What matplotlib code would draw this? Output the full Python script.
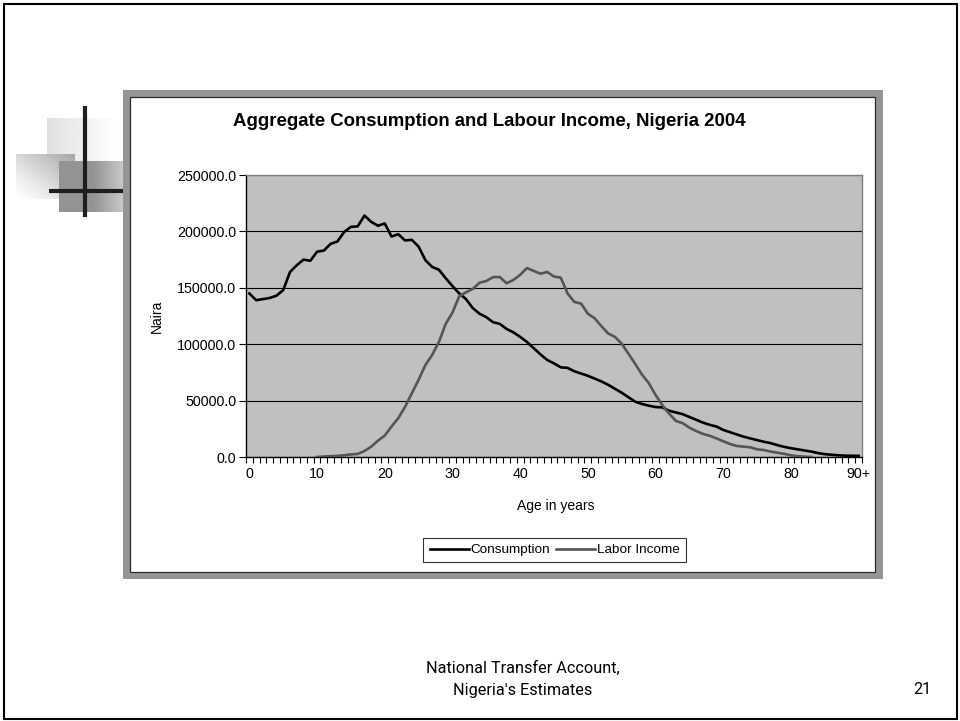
import numpy as np
import matplotlib
matplotlib.use("Agg")
import matplotlib.pyplot as plt
from matplotlib.patches import Rectangle

ages = list(range(0, 91))
age_tick_values = [0, 10, 20, 30, 40, 50, 60, 70, 80, 90]
age_tick_labels = ["0", "10", "20", "30", "40", "50", "60", "70", "80", "90+"]
y_ticks = [0, 50000, 100000, 150000, 200000, 250000]

consumption = [
    145000, 139000, 140000, 141000, 143000, 148000, 164000, 170000, 175000, 174000,
    182000, 183000, 189000, 191000, 199500, 204000, 204500, 214000, 208500, 205000,
    207000, 195500, 197500, 192000, 192500, 186500, 174500, 168500, 166000, 158500,
    151500, 145000, 140000, 132000, 127000, 124000, 119500, 118000, 113500, 110500,
    106500, 102000, 96500, 91000, 86000, 83000, 79500, 79000, 76000, 74000,
    72000, 69500, 67000, 64000, 60500, 57000, 53000, 49000, 47000, 45500,
    44300, 44000, 41000, 39500, 38000, 35500, 33000, 30500, 28500, 27000,
    24000, 22000, 20000, 18000, 16500, 15000, 13500, 12300, 10500, 9000,
    7800, 6800, 5800, 4800, 3500, 2500, 2000, 1500, 1200, 1100,
    1000,
]

labor_income = [
    None, None, None, None, None, None, None, None, None, None,
    0, 400, 700, 1000, 1500, 2300, 2700, 5300, 9200, 14500,
    19000, 27000, 34500, 44500, 56500, 68500, 81500, 90500, 102000, 118000,
    128000, 142500, 146000, 149000, 154500, 156000, 159500, 159500, 154000, 157000,
    161500, 167500, 165000, 162500, 164000, 160000, 159000, 145000, 137500, 136000,
    127000, 123000, 116000, 109500, 106500, 100500, 91500, 82500, 73000, 65500,
    55000, 46000, 38500, 32000, 30000, 26000, 23000, 20500, 18800, 16500,
    14000, 11500, 9800, 9200, 8600, 6800, 6200, 4800, 3800, 2800,
    1500, 700, 300, 0, None, None, None, None, None, None,
    None,
]

title = "Aggregate Consumption and Labour Income, Nigeria 2004"
series_names = ["Consumption", "Labor Income"]

W, H = 960, 721
fig = plt.figure(figsize=(W / 100, H / 100), dpi=100)
fig.patch.set_facecolor("white")

# ---------- background / slide decoration ----------
bg = fig.add_axes([0, 0, 1, 1], zorder=0)
bg.set_xlim(0, W)
bg.set_ylim(H, 0)
bg.axis("off")

# slide frame
bg.add_patch(Rectangle((4, 4), 953, 715, fill=False, edgecolor="black", lw=1.5))

# gradient squares
def grad_square(x0, x1, y0, y1, arr):
    bg.imshow(arr, extent=(x0, x1, y1, y0), cmap="gray", vmin=0, vmax=1,
              aspect="auto", interpolation="bilinear", zorder=1)

n = 64
hx = np.linspace(0, 1, n)
grad_square(47, 118, 118, 168, np.tile(0.88 + 0.12 * hx, (n, 1)))
xx, yy = np.meshgrid(hx, hx)
grad_square(16, 75, 154, 199, 1.0 - 0.35 * np.clip((xx + (1 - yy)) / 2, 0, 1) ** 1.2)
grad_square(59, 123, 161, 212, np.tile(0.58 + 0.2 * np.clip((hx - 0.55) / 0.45, 0, 1), (n, 1)))
bg.plot([85, 85], [106, 217], color="#1e1e1e", lw=3, solid_capstyle="butt", zorder=3)
bg.plot([49, 123], [191, 191], color="#1e1e1e", lw=3, solid_capstyle="butt", zorder=3)

# chart area frame
bg.add_patch(Rectangle((123, 90), 760, 489, facecolor="#959595", edgecolor="none", zorder=2))
bg.add_patch(Rectangle((129.5, 97), 745, 475, facecolor="white", edgecolor="#2a2a2a", lw=0.9, zorder=2))

# ---------- main plot ----------
left, right, top, bottom = 246, 862, 175, 457
ax = fig.add_axes([left / W, 1 - bottom / H, (right - left) / W, (bottom - top) / H], zorder=2)
ax.set_facecolor("#c0c0c0")

x = np.array(ages, dtype=float)
c = np.array(consumption, dtype=float)
li = np.array([np.nan if v is None else v for v in labor_income], dtype=float)

ax.plot(x, c, color="black", lw=1.9, label=series_names[0], zorder=3, solid_joinstyle="round")
ax.plot(x, li, color="#555555", lw=1.9, label=series_names[1], zorder=4, solid_joinstyle="round")

ax.set_xlim(-0.5, 90.5)
ax.set_ylim(0, 250000)

ax.set_yticks(y_ticks)
ax.set_yticklabels([f"{v:.1f}" for v in y_ticks], fontsize=10.3, family="Liberation Sans")
ax.yaxis.grid(True, color="black", lw=0.8)
ax.set_axisbelow(True)
ax.tick_params(axis="y", length=5, width=0.8, direction="out", pad=2)

ax.set_xticks(age_tick_values)
ax.set_xticklabels(age_tick_labels, fontsize=10.3, family="Liberation Sans")
ax.set_xticks(np.arange(-0.5, 91, 1), minor=True)
ax.tick_params(axis="x", which="major", length=0, pad=7)
ax.tick_params(axis="x", which="minor", length=4, width=0.8, direction="out")

for s in ["top", "right"]:
    ax.spines[s].set_color("#808080")
    ax.spines[s].set_linewidth(1)
for s in ["left", "bottom"]:
    ax.spines[s].set_color("black")
    ax.spines[s].set_linewidth(1)

# texts
fig.text(489 / W, 1 - 122 / H, title, ha="center", va="center",
         fontsize=13.4, fontweight="bold", family="Liberation Sans")
fig.text(157 / W, 1 - 316 / H, "Naira", rotation=90, ha="center", va="center",
         fontsize=10, family="Liberation Sans")
fig.text(556 / W, 1 - 506 / H, "Age in years", ha="center", va="center",
         fontsize=10, family="Liberation Sans")

leg = ax.legend(loc="center", bbox_to_anchor=(554.5 / W, 1 - 550 / H),
                bbox_transform=fig.transFigure, ncol=2, frameon=True, fancybox=False,
                prop={"family": "Liberation Sans", "size": 9.7},
                handlelength=2.9, handletextpad=0.15, columnspacing=0.4,
                borderpad=0.45, borderaxespad=0)
leg.get_frame().set_edgecolor("black")
leg.get_frame().set_linewidth(0.8)
leg.get_frame().set_facecolor("white")

fig.text(523 / W, 1 - 668 / H, "National Transfer Account,", ha="center", va="center",
         fontsize=11.7, family="Roboto")
fig.text(523 / W, 1 - 691 / H, "Nigeria's Estimates", ha="center", va="center",
         fontsize=11.7, family="Roboto")
fig.text(922 / W, 1 - 690 / H, "21", ha="center", va="center",
         fontsize=11.7, family="Roboto")

fig.savefig("out.png", dpi=100, facecolor="white")
